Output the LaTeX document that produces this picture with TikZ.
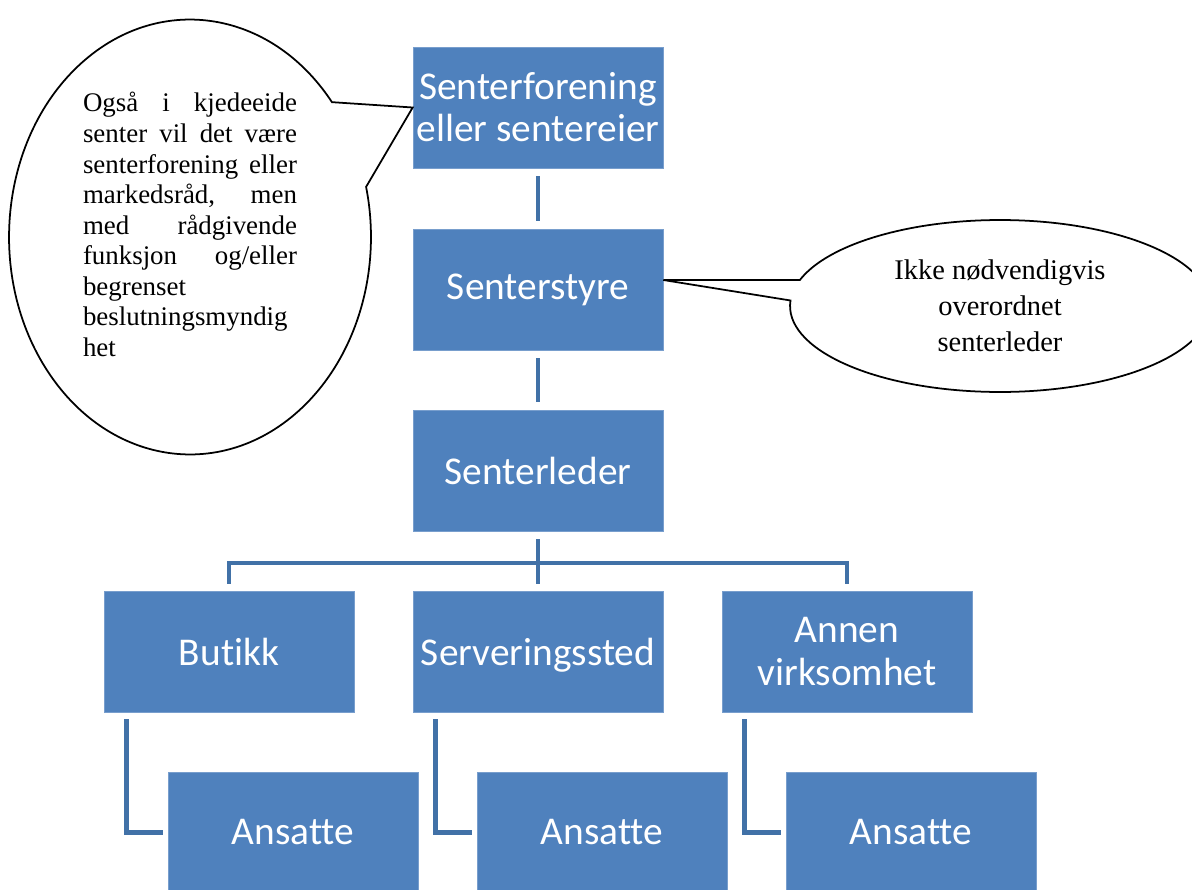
\documentclass[tikz,border=0pt]{standalone}
\usepackage{fontspec}
\setmainfont{Liberation Serif}
\newfontfamily\boxfont[Ligatures=NoCommon]{Carlito}
\usetikzlibrary{shapes.callouts}
\definecolor{orgblue}{RGB}{79,129,189}
\definecolor{linkblue}{RGB}{65,113,167}
\definecolor{edgeblue}{RGB}{120,158,205}

\begin{document}
\begin{tikzpicture}[x=0.02cm, y=-0.02cm,
    orgbox/.style={fill=orgblue, draw=edgeblue, line width=0.4pt, minimum width=5cm, minimum height=2.42cm,
                   align=center, text=white, inner sep=2pt, font=\boxfont\fontsize{22.4}{24}\selectfont},
    link/.style={draw=linkblue, line width=2.8pt},
    bubble/.style={ellipse callout, draw=black, line width=1pt, inner sep=0pt},
]
\useasboundingbox (0,0) rectangle (1192,889);
\clip (0,0) rectangle (1192,889);

% Chain of command
\node[orgbox] (top) at (538,107.5) {Senterforening\\eller sentereier};
\node[orgbox] (board) at (538,289.5) {Senterstyre};
\node[orgbox] (lead) at (538,470.5) {Senterleder};

% Units
\node[orgbox] (shop) at (229,651.5) {Butikk};
\node[orgbox] (serve) at (538,651.5) {\raisebox{0pt}[\height][0pt]{Serveringssted\vphantom{k}}};
\node[orgbox] (other) at (847,651.5) {Annen\\virksomhet};

% Staff
\node[orgbox] (staffA) at (293,832.5) {Ansatte};
\node[orgbox] (staffB) at (602,832.5) {Ansatte};
\node[orgbox] (staffC) at (911,832.5) {Ansatte};

% Connectors
\draw[link] ([yshift=-0.16cm]top.south) -- ([yshift=0.16cm]board.north);
\draw[link] ([yshift=-0.16cm]board.south) -- ([yshift=0.16cm]lead.north);
\draw[link] ([yshift=-0.16cm]lead.south) -- ([yshift=0.14cm]serve.north);
\coordinate (fork) at (538,563);
\draw[link] ([yshift=0.14cm]shop.north) |- (fork) -| ([yshift=0.14cm]other.north);
\draw[link] ([xshift=0.46cm,yshift=-0.14cm]shop.south west) |- ([xshift=-0.1cm]staffA.west);
\draw[link] ([xshift=0.46cm,yshift=-0.14cm]serve.south west) |- ([xshift=-0.1cm]staffB.west);
\draw[link] ([xshift=0.46cm,yshift=-0.14cm]other.south west) |- ([xshift=-0.1cm]staffC.west);

% Callouts
\coordinate (boardtip) at ([yshift=0.19cm]board.east);
\node[bubble, minimum width=7.24cm, minimum height=8.7cm, callout absolute pointer=(top.west),
      callout pointer arc=25, align=left, font=\fontsize{15.3}{17.4}\selectfont] (note) at (190,237)
  {\makebox[4.28cm][s]{Også i kjedeeide}\\
   \makebox[4.28cm][s]{senter vil det være}\\
   \makebox[4.28cm][s]{senterforening eller}\\
   \makebox[4.28cm][s]{markedsråd, men}\\
   \makebox[4.28cm][s]{med rådgivende}\\
   \makebox[4.28cm][s]{funksjon og/eller}\\
   begrenset\\
   beslutningsmyndig\\
   het\rule[-0.5cm]{0pt}{0pt}};
\node[bubble, minimum width=8.4cm, minimum height=3.44cm, callout absolute pointer=(boardtip),
      callout pointer arc=14, align=center, font=\fontsize{16.2}{20.5}\selectfont] (remark) at (1000,306)
  {Ikke nødvendigvis\\overordnet\\senterleder};
\end{tikzpicture}
\end{document}
